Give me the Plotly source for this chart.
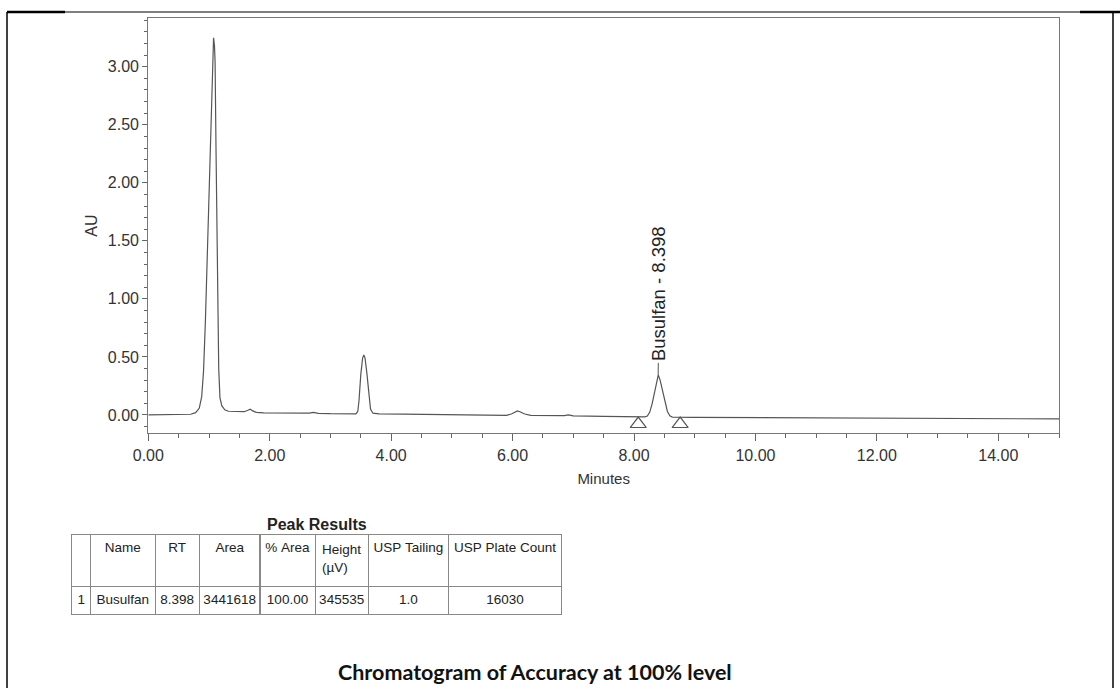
import plotly.graph_objects as go

# ---------------- data ----------------
time_min = [0.00, 0.30, 0.60, 0.70, 0.78, 0.84, 0.88, 0.91, 0.94, 0.97, 1.00, 1.02, 1.04, 1.06, 1.075,
            1.09, 1.10, 1.115, 1.13, 1.145, 1.16, 1.18, 1.21, 1.26, 1.32, 1.45, 1.58, 1.64, 1.68, 1.72,
            1.78, 1.90, 2.20, 2.50, 2.65, 2.72, 2.80, 3.00, 3.30, 3.42, 3.45, 3.47, 3.50, 3.53, 3.55,
            3.57, 3.60, 3.63, 3.66, 3.70, 3.80, 4.20, 4.60, 5.00, 5.50, 5.90, 5.98, 6.04, 6.08, 6.13,
            6.20, 6.30, 6.60, 6.85, 6.92, 7.00, 7.50, 8.00, 8.18, 8.22, 8.26, 8.30, 8.34, 8.37, 8.40,
            8.43, 8.47, 8.51, 8.55, 8.59, 8.63, 9.00, 10.00, 11.00, 12.00, 13.00, 14.00, 15.00]
absorbance_au = [0.000, 0.000, 0.001, 0.006, 0.020, 0.060, 0.160, 0.380, 0.800, 1.350, 1.850, 2.250, 2.700, 3.050, 3.250,
                 3.180, 3.050, 2.300, 1.500, 0.800, 0.400, 0.150, 0.080, 0.045, 0.032, 0.030, 0.028, 0.040, 0.050, 0.035,
                 0.022, 0.018, 0.015, 0.013, 0.016, 0.022, 0.014, 0.011, 0.009, 0.010, 0.030, 0.120, 0.350, 0.490, 0.517,
                 0.490, 0.360, 0.170, 0.050, 0.015, 0.009, 0.007, 0.004, 0.002, 0.000, -0.003, 0.008, 0.028, 0.035, 0.026,
                 0.008, -0.003, -0.006, -0.006, 0.000, -0.008, -0.012, -0.015, -0.017, -0.010, 0.025, 0.100, 0.200, 0.290, 0.345,
                 0.300, 0.200, 0.100, 0.030, -0.008, -0.018, -0.021, -0.024, -0.026, -0.028, -0.030, -0.032, -0.034]

peak_name = "Busulfan"
peak_rt = 8.398
peak_apex_au = 0.345
integration_marks_t = [8.07, 8.76]
integration_marks_au = [-0.078, -0.078]

NB = "\u00a0"
table_header = ["", "Name", "RT", "Area", f"%{NB}Area", "Height<br>(\u00b5V)",
                f"USP{NB}Tailing", f"USP{NB}Plate{NB}Count"]
table_row = ["1", "Busulfan", "8.398", "3441618", "100.00", "345535", "1.0", "16030"]

# ---------------- figure ----------------
W, H = 1120, 688
def px(x):
    return x / W
def py(y):
    return 1 - y / H

FONT = "Liberation Sans, Arial, sans-serif"
fig = go.Figure()

fig.add_trace(go.Scatter(x=time_min, y=absorbance_au, mode="lines",
                         line=dict(color="#555555", width=1.2), showlegend=False,
                         xaxis="x", yaxis="y"))
fig.add_trace(go.Scatter(x=integration_marks_t, y=integration_marks_au, mode="markers",
                         marker=dict(symbol="triangle-up-open", size=14, color="#555555",
                                     line=dict(width=1.2, color="#555555")),
                         showlegend=False, xaxis="x", yaxis="y"))

fig.add_annotation(x=peak_rt, y=peak_apex_au, xref="x", yref="y",
                   text=f"{peak_name} - {peak_rt:.3f}", textangle=-90,
                   showarrow=True, arrowhead=0, arrowwidth=1, arrowcolor="#555555",
                   ax=1, ay=-81, font=dict(family=FONT, size=18.5, color="#222222"))

fig.add_trace(go.Table(
    domain=dict(x=[px(71.7), px(561.7)], y=[py(620), py(534.3)]),
    columnwidth=[19, 64.3, 44.3, 60.7, 55, 53.3, 80, 113.4],
    header=dict(values=table_header, align="center", height=52,
                line=dict(color="#888888", width=1), fill=dict(color="white"),
                font=dict(family=FONT, size=13.5, color="#222222")),
    cells=dict(values=[[v] for v in table_row], align="center", height=28.5,
               line=dict(color="#888888", width=1), fill=dict(color="white"),
               font=dict(family=FONT, size=13.5, color="#222222")),
))

fig.add_annotation(x=px(316.7), y=py(524), xref="paper", yref="paper", showarrow=False,
                   xanchor="center", yanchor="middle",
                   text="<b>Peak Results</b>", font=dict(family=FONT, size=16, color="#222222"))
fig.add_annotation(x=px(535), y=py(687), xref="paper", yref="paper", showarrow=False,
                   xanchor="center", yanchor="bottom",
                   text="<b>Chromatogram of Accuracy at 100% level</b>",
                   font=dict(family="Lato, Open Sans, sans-serif", size=21.5, color="#111111"))

# outer document frame
frame = [
    (7, 12, 1113, 12, 1), (7, 12, 65, 12, 2.5), (1080, 12, 1120, 12, 2.5),
    (7, 12, 7, 700, 1.5), (1113, 12, 1113, 700, 1.5),
]
for x0, y0, x1, y1, w in frame:
    fig.add_shape(type="line", xref="paper", yref="paper",
                  x0=px(x0), y0=py(y0), x1=px(x1), y1=py(y1),
                  line=dict(color="black", width=w))

fig.update_layout(
    width=W, height=H, margin=dict(l=0, r=0, t=0, b=0, autoexpand=False),
    paper_bgcolor="white", plot_bgcolor="white",
    xaxis=dict(domain=[px(148.3), px(1059)], range=[0, 15], dtick=2, tick0=0, tickformat=".2f",
               showgrid=False, zeroline=False, showline=True, mirror=True, automargin=False,
               linecolor="#777777", linewidth=1.3, ticks="outside", ticklen=7, tickcolor="#666666",
               minor=dict(dtick=0.5, ticks="outside", ticklen=4, tickcolor="#666666"),
               tickfont=dict(family=FONT, size=16, color="#333333"),
               title=dict(text="Minutes", font=dict(family=FONT, size=15, color="#333333"), standoff=10),
               anchor="y"),
    yaxis=dict(domain=[py(433.3), py(18)], range=[-0.158, 3.42], dtick=0.5, tick0=0, tickformat=".2f",
               showgrid=False, zeroline=False, showline=True, mirror=True, automargin=False,
               linecolor="#777777", linewidth=1.3, ticks="outside", ticklen=5, tickcolor="#666666",
               minor=dict(dtick=0.1, ticks="outside", ticklen=3, tickcolor="#666666"),
               tickfont=dict(family=FONT, size=16, color="#333333"),
               title=dict(text="AU", font=dict(family=FONT, size=16, color="#333333"), standoff=6),
               anchor="x"),
)

fig.write_html("out.html", post_script="document.body.style.margin='0';",
               config={"displayModeBar": False})
